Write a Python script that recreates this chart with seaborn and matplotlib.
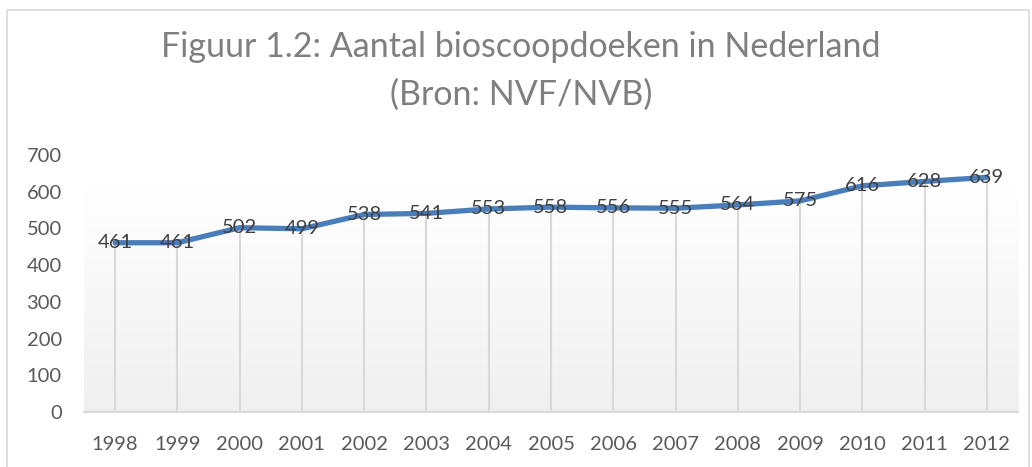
import numpy as np
import matplotlib
matplotlib.use("Agg")
import matplotlib.pyplot as plt
import seaborn as sns
import pandas as pd
from matplotlib.patches import Rectangle

years = ["1998", "1999", "2000", "2001", "2002", "2003", "2004", "2005",
         "2006", "2007", "2008", "2009", "2010", "2011", "2012"]
screens = [461, 461, 502, 499, 538, 541, 553, 558, 556, 555, 564, 575, 616, 628, 639]
yticks = [0, 100, 200, 300, 400, 500, 600, 700]
title = "Figuur 1.2: Aantal bioscoopdoeken in Nederland\n(Bron: NVF/NVB)"

sns.set_theme(style="white")
plt.rcParams['font.family'] = ['Lato', 'DejaVu Sans']

df = pd.DataFrame({"pos": np.arange(len(years)), "value": screens})

fig = plt.figure(figsize=(10.32, 4.67), dpi=100)
fig.patch.set_facecolor("white")
fig.add_artist(Rectangle((7 / 1032, -0.01), 1022 / 1032, (467 - 10) / 467 + 0.01,
                         transform=fig.transFigure, fill=False,
                         edgecolor="#d9d9d9", linewidth=1.2))

ax = fig.add_axes([84 / 1032, (467 - 412) / 467, (1018 - 84) / 1032, (412 - 155) / 467])

# subtle gradient plot area background
grad = np.linspace(1.0, 0.94, 256).reshape(-1, 1)
ax.imshow(np.dstack([grad, grad, grad]), extent=[-0.5, 14.5, 0, 620],
          aspect="auto", origin="upper", zorder=0)

ax.vlines(df["pos"], 0, df["value"], color="#d9d9d9", linewidth=1.5, zorder=1)
sns.lineplot(data=df, x="pos", y="value", ax=ax, color="#4a7ebb",
             linewidth=3.8, zorder=3, solid_capstyle="round")
for x, v in zip(df["pos"], df["value"]):
    ax.text(x, v, str(v), ha="center", va="center", fontsize=14.5,
            color="#404040", zorder=4)

ax.set_xlim(-0.5, 14.5)
ax.set_ylim(0, 700)
ax.set_yticks(yticks)
ax.set_yticklabels([str(t) for t in yticks])
ax.set_xticks(df["pos"])
ax.set_xticklabels(years)
ax.tick_params(axis="both", labelsize=14.5, colors="#595959", length=0)
ax.tick_params(axis="y", pad=16)
ax.tick_params(axis="x", pad=17)
ax.set_xlabel("")
ax.set_ylabel("")
for s in ["top", "right", "left"]:
    ax.spines[s].set_visible(False)
ax.spines["bottom"].set_color("#d9d9d9")
ax.spines["bottom"].set_linewidth(1.5)
ax.set_facecolor("white")

fig.text(0.505, 1 - 71 / 467, title, ha="center", va="center", fontsize=24.5,
         color="#7f7f7f", linespacing=1.6)

fig.savefig("out.png", dpi=100)
